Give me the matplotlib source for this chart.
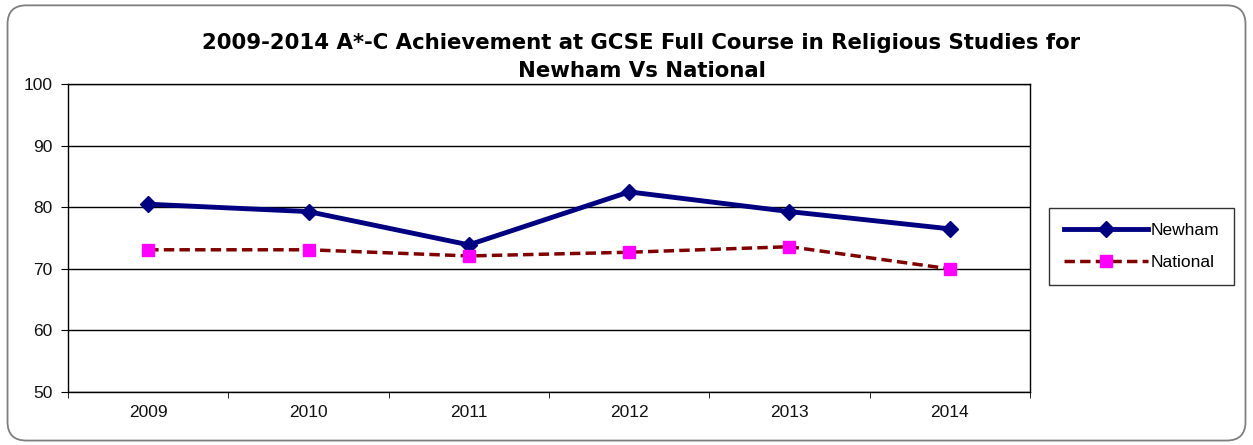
import matplotlib
matplotlib.use("Agg")
import matplotlib.pyplot as plt
from matplotlib.patches import FancyBboxPatch

plt.rcParams['font.family'] = ['Liberation Sans', 'DejaVu Sans']

years = ['2009', '2010', '2011', '2012', '2013', '2014']
newham = [80.5, 79.3, 73.9, 82.5, 79.3, 76.5]
national = [73.1, 73.1, 72.1, 72.7, 73.6, 70.0]

fig = plt.figure(figsize=(12.53, 4.45), dpi=100)
ax = fig.add_axes([0.0543, 0.119, 0.7677, 0.692])

# rounded outer frame like the excel chart area
frame = FancyBboxPatch((0.006, 0.01), 0.988, 0.978, boxstyle="round,pad=0,rounding_size=0.015",
                       transform=fig.transFigure, fill=False, edgecolor='#7f7f7f', linewidth=1.3,
                       mutation_aspect=1253/445)
fig.patches.append(frame)

x = list(range(len(years)))
ax.plot(x, newham, color='#000080', linewidth=3.5, marker='D', markersize=8, label='Newham')
ax.plot(x, national, color='#800000', linewidth=2.5, linestyle=(0, (3, 1.5)), marker='s',
        markersize=9, markerfacecolor='#ff00ff', markeredgecolor='#ff00ff', label='National')

ax.set_xlim(-0.5, 5.5)
ax.set_ylim(50, 100)
ax.set_yticks(range(50, 101, 10))
ax.set_xticks(x)
ax.set_xticklabels(years)
ax.set_xticks([i - 0.5 for i in range(7)], minor=True)
ax.tick_params(axis='x', which='major', length=0, pad=9)
ax.tick_params(axis='x', which='minor', length=4, direction='out')
ax.tick_params(axis='y', length=5, direction='out', pad=6)
ax.tick_params(labelsize=12.5, labelcolor='#111111')
ax.grid(axis='y', color='black', linewidth=1)
for s in ax.spines.values():
    s.set_color('black')
    s.set_linewidth(1)

fig.suptitle('2009-2014 A*-C Achievement at GCSE Full Course in Religious Studies for\nNewham Vs National',
             x=0.512, y=0.925, va='top', fontsize=15.3, fontweight='bold', linespacing=1.45,
             family=['DejaVu Sans'])

leg = fig.legend(loc='center', bbox_to_anchor=(0.911, 0.446), fontsize=12.5, frameon=True,
                 fancybox=False, edgecolor='black', handlelength=4.8, borderpad=0.85,
                 labelspacing=0.95, handletextpad=0.15, borderaxespad=0)
leg.get_frame().set_linewidth(1)

fig.savefig('out.png', dpi=100)
